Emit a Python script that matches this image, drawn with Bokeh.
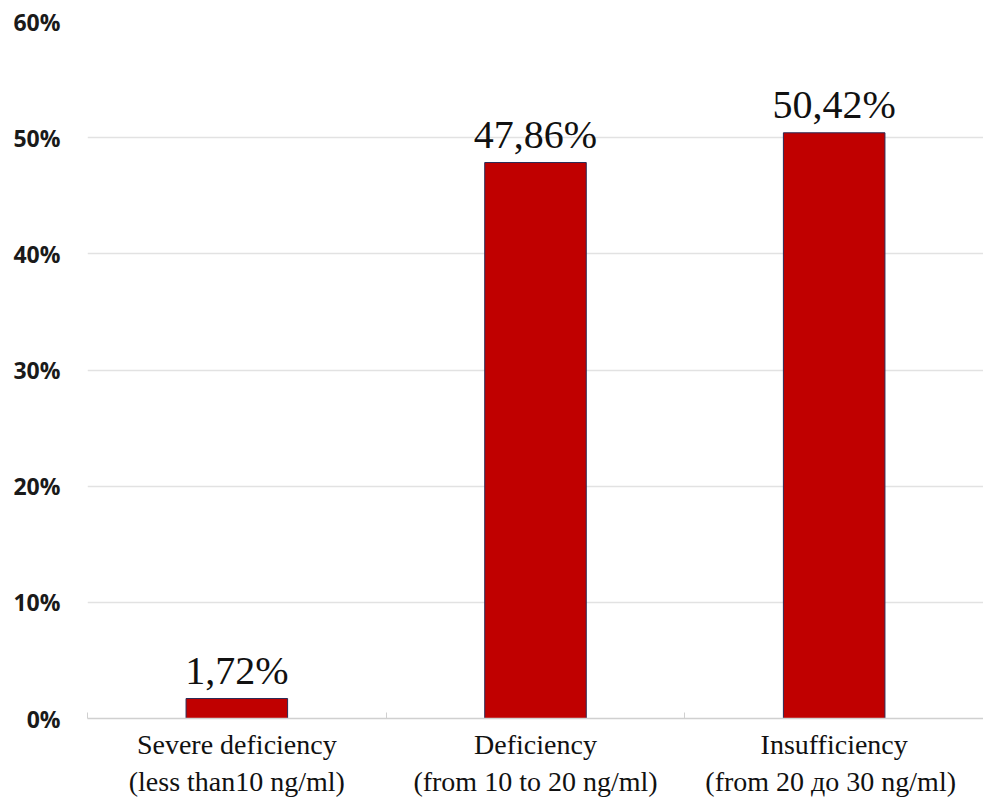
from bokeh.plotting import figure
from bokeh.models import ColumnDataSource, FixedTicker, Range1d
from bokeh.core.properties import value
from bokeh.embed import file_html
from bokeh.resources import INLINE

# Vitamin D status groups and share of patients (%)
categories = [
    "Severe deficiency\n(less than10 ng/ml)",
    "Deficiency\n(from 10 to 20 ng/ml)",
    "Insufficiency\n(from 20  до 30 ng/ml)",
]
shares = [1.72, 47.86, 50.42]
share_labels = ["1,72%", "47,86%", "50,42%"]
y_ticks = [0, 10, 20, 30, 40, 50, 60]

positions = [i + 0.5 for i in range(len(categories))]
src = ColumnDataSource(data=dict(x=positions, top=shares, label=share_labels))

p = figure(
    width=983, height=799,
    x_range=Range1d(0, len(categories)), y_range=Range1d(0, 60),
    output_backend="svg", toolbar_location=None,
    min_border_left=87, min_border_right=0,
    min_border_top=21, min_border_bottom=60,
)
p.outline_line_color = None
p.background_fill_color = "white"
p.border_fill_color = "white"

p.vbar(x="x", top="top", width=0.34, bottom=0, source=src,
       fill_color="#C00000", line_color="#2a2a55", line_width=1)

p.text(x="x", y="top", text="label", source=src,
       text_align="center", text_baseline="alphabetic", y_offset=-28,
       text_font=value("Liberation Serif"), text_font_size="40px",
       text_color="#111111")

# y axis: percentages, no axis line
p.yaxis.ticker = FixedTicker(ticks=y_ticks)
p.yaxis.major_label_overrides = {t: f"{t}%" for t in y_ticks}
p.yaxis.axis_line_color = None
p.yaxis.major_tick_line_color = None
p.yaxis.minor_tick_line_color = None
p.yaxis.major_tick_in = 0
p.yaxis.major_tick_out = 0
p.yaxis.major_label_standoff = 27
p.yaxis.major_label_text_font = "Open Sans"
p.yaxis.major_label_text_font_style = "bold"
p.yaxis.major_label_text_font_size = "23px"
p.yaxis.major_label_text_color = "#1a1a1a"

# x axis: category labels at centres, small ticks at group boundaries
p.xaxis.ticker = FixedTicker(ticks=positions,
                             minor_ticks=list(range(len(categories) + 1)))
p.xaxis.major_label_overrides = {pos: c for pos, c in zip(positions, categories)}
p.xaxis.axis_line_color = "#d0d0d0"
p.xaxis.axis_line_width = 1.5
p.xaxis.major_tick_line_color = None
p.xaxis.major_tick_in = 0
p.xaxis.major_tick_out = 0
p.xaxis.minor_tick_line_color = "#d0d0d0"
p.xaxis.minor_tick_in = 6
p.xaxis.minor_tick_out = 0
p.xaxis.major_label_standoff = 10
p.xaxis.major_label_text_font = "Liberation Serif"
p.xaxis.major_label_text_font_size = "28px"
p.xaxis.major_label_text_color = "#111111"

p.xgrid.grid_line_color = None
p.ygrid.grid_line_color = "#e2e2e2"
p.ygrid.grid_line_width = 1.5

open("out.html", "w").write(file_html(p, INLINE))
